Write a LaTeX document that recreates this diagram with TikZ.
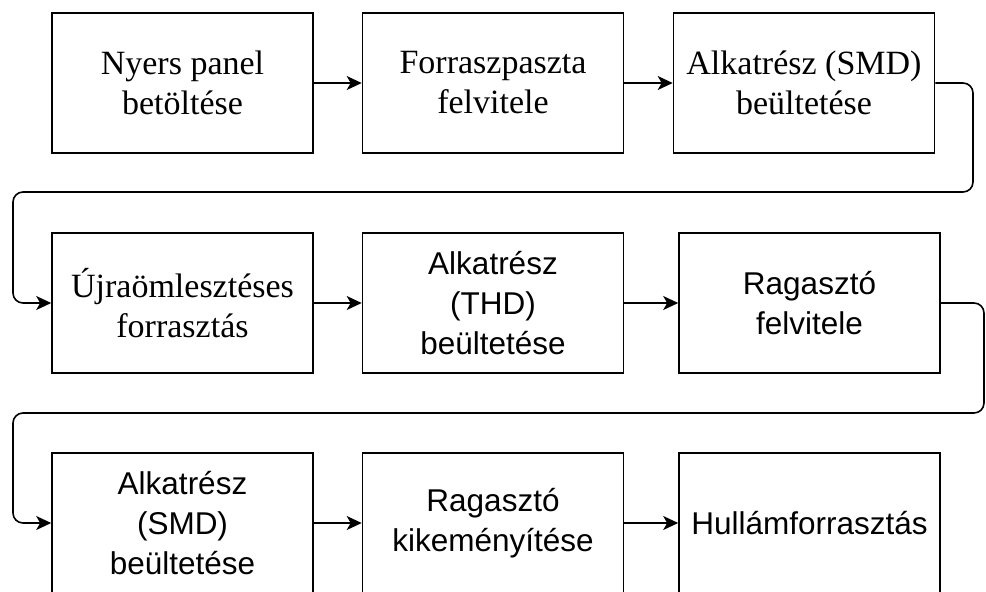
\documentclass[tikz,border=0pt]{standalone}
\usepackage{fontspec}
\setmainfont{Liberation Serif}
\setsansfont{Liberation Sans}
\usetikzlibrary{arrows.meta}
\tikzset{
  box/.style={draw=black, line width=1.6pt, fill=white, minimum width=261pt, minimum height=140pt, inner sep=0pt, align=center, text=black},
  serifbox/.style={box, font=\fontsize{34}{40}\selectfont\rmfamily},
  sansbox/.style={box, font=\fontsize{31.5}{40}\selectfont\sffamily},
  flow/.style={draw=black, line width=1.6pt, -{Stealth[length=15pt,width=14pt,inset=4pt]}, rounded corners=10pt}
}
\begin{document}
\begin{tikzpicture}[x=1pt,y=-1pt]
\useasboundingbox (0,0) rectangle (986,592);
\clip (0,0) rectangle (986,592);
\fill[white] (0,0) rectangle (986,592);
% row 1
\node[serifbox] (n1) at (182.5,83) {Nyers panel\\betöltése};
\node[serifbox] (n2) at (493,83) {Forraszpaszta\\felvitele};
\node[serifbox] (n3) at (804,83) {Alkatrész (SMD)\\beültetése};
% row 2
\node[serifbox] (n4) at (182.5,303) {Újraömlesztéses\\forrasztás};
\node[sansbox] (n5) at (493,303) {Alkatrész\\(THD)\\beültetése};
\node[sansbox] (n6) at (809.5,303) {Ragasztó\\felvitele};
% row 3
\node[sansbox] (n7) at (182.5,523) {Alkatrész\\(SMD)\\beültetése};
\node[sansbox] (n8) at (493,523) {Ragasztó\\kikeményítése};
\node[sansbox] (n9) at (809.5,523) {Hullámforrasztás};
% bends
\coordinate (a1) at (973,83);
\coordinate (a2) at (973,192);
\coordinate (a3) at (13,192);
\coordinate (a4) at (13,303);
\coordinate (b1) at (984,303);
\coordinate (b2) at (984,413);
\coordinate (b3) at (13,413);
\coordinate (b4) at (13,523);
% connectors
\draw[flow] (n1.east) -- (n2.west);
\draw[flow] (n2.east) -- (n3.west);
\draw[flow] (n3.east) -- (a1) -- (a2) -- (a3) -- (a4) -- (n4.west);
\draw[flow] (n4.east) -- (n5.west);
\draw[flow] (n5.east) -- (n6.west);
\draw[flow] (n6.east) -- (b1) -- (b2) -- (b3) -- (b4) -- (n7.west);
\draw[flow] (n7.east) -- (n8.west);
\draw[flow] (n8.east) -- (n9.west);
\end{tikzpicture}
\end{document}
